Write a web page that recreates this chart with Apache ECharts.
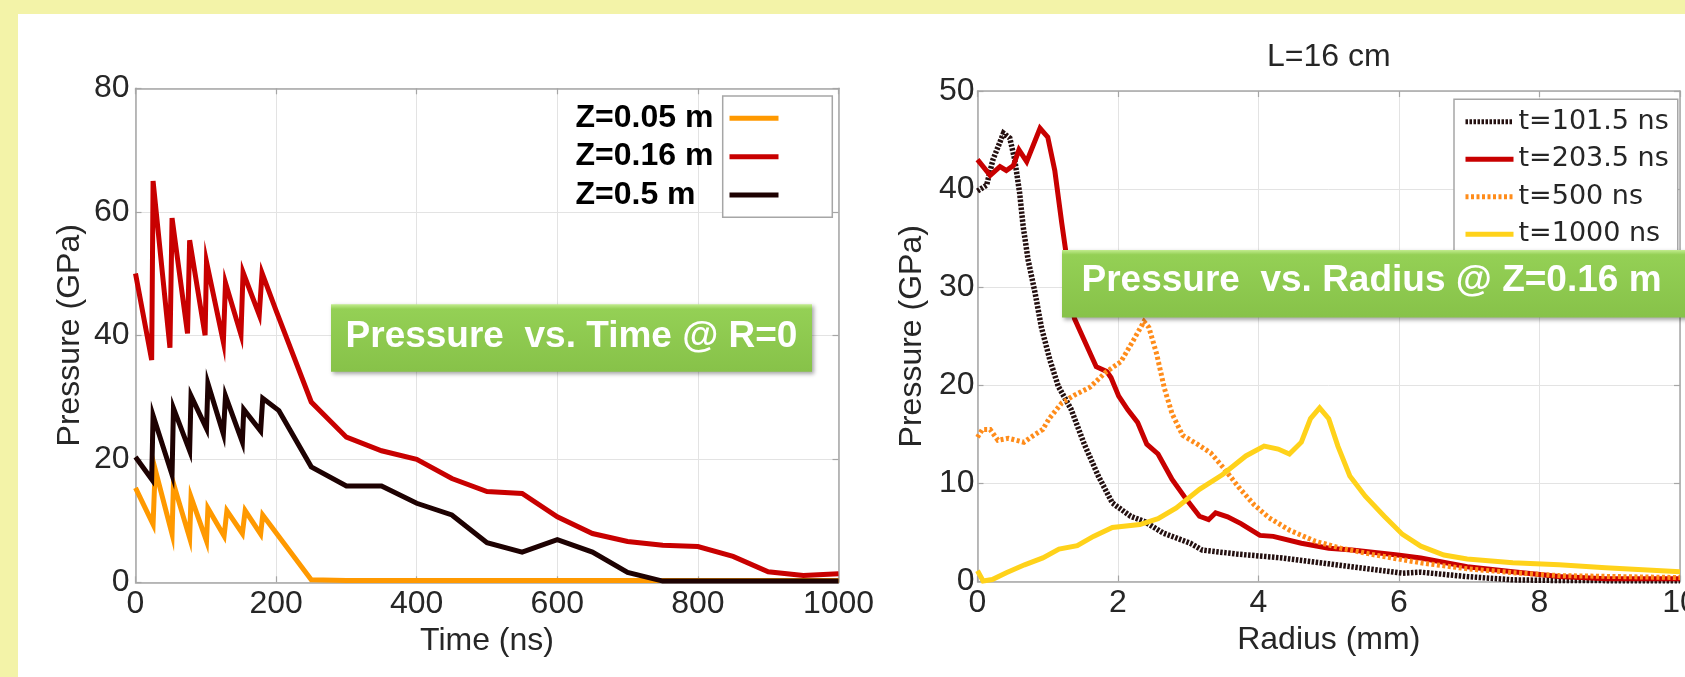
<!DOCTYPE html>
<html><head><meta charset="utf-8">
<script src="https://cdn.jsdelivr.net/npm/echarts@6/dist/echarts.min.js"></script>
<style>
html,body{margin:0;padding:0;overflow:hidden;}
#chart{width:1685px;height:677px;background:
 linear-gradient(#f3f3a8,#f3f3a8) left top/18px 100% no-repeat,
 linear-gradient(#f3f3a8,#f3f3a8) left top/100% 14px no-repeat, #ffffff;}
</style></head><body><div id="chart"></div>
<script>
const FONT = "'Liberation Sans', Arial, sans-serif";
const WIDE = "'DejaVu Sans', sans-serif";

// ---- Left chart: Pressure vs. Time @ R=0 ----
const leftNames = ['Z=0.05 m', 'Z=0.16 m', 'Z=0.5 m'];
const timeTicks = [0, 200, 400, 600, 800, 1000];
const pressTicksLeft = [0, 20, 40, 60, 80];
const z005 = [[0,15.3],[25,9.4],[28,18.3],[52,7.8],[54,16],[77,7.2],[79,13.8],[101,6.7],[103,12],[126,7.5],[130,11.6],[152,7.9],[156,11.6],[178,7.8],[181,10.9],[250,0.4],[300,0.3],[350,0.3],[400,0.3],[450,0.3],[500,0.3],[550,0.3],[600,0.3],[650,0.3],[700,0.3],[750,0.3],[800,0.3],[850,0.3],[900,0.3],[950,0.3],[1000,0.3]];
const z016 = [[0,50],[23,36],[25,65],[49,38],[52,59],[74,40.3],[77,55.4],[99,40],[101,51.9],[125,38.9],[128,48.5],[150,40.1],[153,50.2],[176,43.3],[180,50.1],[200,44],[250,29.2],[300,23.5],[350,21.3],[400,19.9],[450,16.8],[500,14.7],[550,14.4],[600,10.6],[650,7.9],[700,6.6],[750,6.0],[800,5.8],[850,4.2],[900,1.7],[950,1.1],[1000,1.4]];
const z05 = [[0,20.3],[23,16.7],[25,27],[52,17.4],[54,28.2],[77,21.3],[79,30.2],[101,24.9],[103,32.2],[125,24],[128,30.2],[152,22.7],[154,28],[178,24.5],[181,29.8],[204,27.8],[250,18.7],[300,15.6],[350,15.6],[400,12.8],[450,10.9],[500,6.4],[550,4.9],[600,6.9],[650,4.9],[700,1.6],[750,0.2],[800,0.2],[850,0.2],[900,0.2],[950,0.2],[1000,0.2]];

// ---- Right chart: Pressure vs. Radius @ Z=0.16 m ----
const rightTitle = 'L=16 cm';
const rightNames = ['t=101.5 ns', 't=203.5 ns', 't=500 ns', 't=1000 ns'];
const radiusTicks = [0, 2, 4, 6, 8, 10];
const pressTicksRight = [0, 10, 20, 30, 40, 50];
const t1015 = [[0,39.8],[0.13,40.4],[0.22,43],[0.37,45.7],[0.46,45.2],[0.53,43],[0.6,39.6],[0.65,36.2],[0.72,32.8],[0.82,29.4],[0.91,25.9],[1.03,22.6],[1.15,19.9],[1.33,17.6],[1.52,14.0],[1.72,10.75],[1.92,8.0],[2.18,6.65],[2.38,6.1],[2.64,4.95],[3.03,3.9],[3.2,3.2],[3.69,2.8],[4.34,2.4],[5.0,1.8],[5.66,1.2],[6.05,0.85],[6.31,0.95],[6.97,0.5],[7.62,0.17],[8.28,0.1],[10,0.07]];
const t2035 = [[0,43],[0.18,41.4],[0.32,42.3],[0.41,41.9],[0.51,42.4],[0.59,44],[0.7,42.8],[0.89,46.2],[1.0,45.3],[1.1,41.9],[1.2,36.5],[1.3,31.5],[1.38,26.8],[1.5,24.9],[1.69,21.9],[1.84,21.4],[1.9,20.8],[2.01,18.9],[2.14,17.5],[2.28,16.2],[2.41,14.0],[2.57,13.0],[2.77,10.4],[2.97,8.4],[3.16,6.65],[3.29,6.3],[3.39,7.0],[3.56,6.6],[3.75,5.9],[4.02,4.7],[4.21,4.6],[4.61,3.9],[5.0,3.4],[5.33,3.2],[5.98,2.7],[6.31,2.4],[6.97,1.5],[7.62,1.0],[8.28,0.5],[8.94,0.27],[10,0.27]];
const t500 = [[0,14.7],[0.07,15.5],[0.18,15.5],[0.29,14.4],[0.44,14.6],[0.66,14.2],[0.8,14.9],[0.93,15.5],[1.02,16.6],[1.2,18.2],[1.38,19.0],[1.6,19.8],[1.82,21.3],[2.04,22.4],[2.22,24.6],[2.37,26.5],[2.44,25.9],[2.55,23.2],[2.66,19.7],[2.77,17.1],[2.92,14.9],[3.13,14.0],[3.32,13.1],[3.5,11.6],[3.72,9.6],[3.94,7.8],[4.15,6.5],[4.45,5.2],[4.81,4.1],[5.17,3.4],[5.66,2.7],[6.31,1.9],[6.97,1.3],[7.62,0.9],[8.28,0.6],[10,0.4]];
const t1000 = [[0,1.1],[0.08,0.05],[0.21,0.2],[0.41,0.9],[0.67,1.7],[0.93,2.4],[1.16,3.3],[1.42,3.65],[1.65,4.6],[1.92,5.5],[2.31,5.8],[2.57,6.4],[2.83,7.5],[3.16,9.4],[3.49,10.9],[3.82,12.8],[4.08,13.8],[4.28,13.5],[4.44,13.0],[4.61,14.2],[4.74,16.6],[4.87,17.7],[5.0,16.6],[5.13,13.8],[5.3,10.75],[5.52,8.7],[5.79,6.65],[6.05,4.8],[6.31,3.6],[6.64,2.7],[6.97,2.3],[7.62,1.9],[8.28,1.7],[8.94,1.4],[10,1.0]];

const boxLeftText = 'Pressure  vs. Time @ R=0';
const boxRightText = 'Pressure  vs. Radius @ Z=0.16 m';

const AX = '#a6a6a6', GRIDC = '#e3e3e3', TXT = '#262626';

function span(ticks){ return {min: ticks[0], max: ticks[ticks.length-1], interval: ticks[1]-ticks[0]}; }
const plain = v => String(v);

function bottomX(gi, ticks, name){
  return Object.assign({type:'value', gridIndex:gi, position:'bottom', name:name, nameLocation:'middle', nameGap:40,
    nameTextStyle:{fontSize:32, color:TXT, fontFamily:FONT},
    axisLine:{show:true, onZero:false, lineStyle:{color:AX, width:1.5}},
    axisTick:{show:true, inside:true, length:6, lineStyle:{color:AX, width:1.2}},
    axisLabel:{fontSize:32, color:TXT, fontFamily:FONT, margin:6, formatter:plain},
    splitLine:{show:true, lineStyle:{color:GRIDC, width:1}}}, span(ticks));
}
function topX(gi, ticks){
  return Object.assign({type:'value', gridIndex:gi, position:'top',
    axisLine:{show:true, onZero:false, lineStyle:{color:AX, width:1.5}},
    axisTick:{show:true, inside:true, length:6, lineStyle:{color:AX, width:1.2}},
    axisLabel:{show:false}, splitLine:{show:false}}, span(ticks));
}
function leftY(gi, ticks, name, margin){
  return Object.assign({type:'value', gridIndex:gi, position:'left', name:name, nameLocation:'middle', nameGap:49,
    nameTextStyle:{fontSize:32, color:TXT, fontFamily:FONT},
    axisLine:{show:true, onZero:false, lineStyle:{color:AX, width:1.5}},
    axisTick:{show:true, inside:true, length:6, lineStyle:{color:AX, width:1.2}},
    axisLabel:{fontSize:32, color:TXT, fontFamily:FONT, margin:margin, formatter:plain},
    splitLine:{show:true, lineStyle:{color:GRIDC, width:1}}}, span(ticks));
}
function rightY(gi, ticks){
  return Object.assign({type:'value', gridIndex:gi, position:'right',
    axisLine:{show:true, onZero:false, lineStyle:{color:AX, width:1.5}},
    axisTick:{show:true, inside:true, length:6, lineStyle:{color:AX, width:1.2}},
    axisLabel:{show:false}, splitLine:{show:false}}, span(ticks));
}
function line(name, data, xi, yi, color, width, type){
  return {type:'line', name:name, data:data, xAxisIndex:xi, yAxisIndex:yi, symbol:'none', showSymbol:false,
    lineStyle:{color:color, width:width, type:type || 'solid', cap:'butt', join:'miter'}, itemStyle:{color:color}};
}

const chart = echarts.init(document.getElementById('chart'), null, {renderer:'canvas'});
const greenFill = new echarts.graphic.LinearGradient(0,0,0,1,[
  {offset:0, color:'#c2ec8e'},{offset:0.07, color:'#94d055'},{offset:1, color:'#87c249'}]);

chart.setOption({
  animation:false,
  backgroundColor:'transparent',
  textStyle:{fontFamily:FONT},
  title:{text:rightTitle, left:1267, top:41, padding:0,
    textStyle:{fontSize:32, fontWeight:'normal', color:TXT, fontFamily:FONT}},
  grid:[
    {left:135.5, top:88.3, width:703, height:494, containLabel:false, outerBoundsMode:'none'},
    {left:977.5, top:91, width:702.5, height:490.5, containLabel:false, outerBoundsMode:'none'}
  ],
  xAxis:[ bottomX(0, timeTicks, 'Time (ns)'), topX(0, timeTicks),
          bottomX(1, radiusTicks, 'Radius (mm)'), topX(1, radiusTicks) ],
  yAxis:[ leftY(0, pressTicksLeft, 'Pressure (GPa)', 6), rightY(0, pressTicksLeft),
          leftY(1, pressTicksRight, 'Pressure (GPa)', 3), rightY(1, pressTicksRight) ],
  legend:[
    {data:leftNames, orient:'vertical', right:904, top:102.3, padding:0, align:'right',
     itemWidth:49, itemHeight:14, itemGap:6.35, selectedMode:false,
     itemStyle:{opacity:0}, lineStyle:{width:5},
     formatter: n => '{a|' + n + '}',
     textStyle:{fontSize:32, fontWeight:'bold', color:'#000', fontFamily:FONT,
       rich:{a:{width:149, align:'left', fontSize:32, fontWeight:'bold', color:'#000', fontFamily:FONT}}}},
    {data:rightNames, orient:'vertical', left:1454, top:99.3, padding:[9,9,9,9],
     borderColor:AX, borderWidth:1.5, backgroundColor:'#fff',
     itemWidth:48, itemHeight:14, itemGap:10.5, selectedMode:false,
     itemStyle:{opacity:0}, lineStyle:{width:5},
     textStyle:{fontSize:27, color:TXT, fontFamily:WIDE}}
  ],
  series:[
    line(leftNames[0], z005, 0, 0, '#ff9900', 5),
    line(leftNames[1], z016, 0, 0, '#c80000', 5),
    line(leftNames[2], z05, 0, 0, '#1e0202', 5),
    line(rightNames[0], t1015, 2, 2, '#241010', 5.5, [2.5,1.5]),
    line(rightNames[1], t2035, 2, 2, '#c80000', 5),
    line(rightNames[2], t500, 2, 2, '#ff8c1a', 5, [3,2.5]),
    line(rightNames[3], t1000, 2, 2, '#ffd21a', 5)
  ],
  graphic:[
    {type:'rect', z:3, shape:{x:722.7, y:96, width:109.6, height:121.3},
     style:{fill:'#fff', stroke:AX, lineWidth:1.5}},
    {type:'rect', z:20, shape:{x:331, y:304.3, width:481, height:67.4},
     style:{fill:greenFill, shadowBlur:4, shadowColor:'rgba(0,0,0,0.35)', shadowOffsetX:2, shadowOffsetY:2}},
    {type:'text', z:21, x:571.5, y:337,
     style:{text:boxLeftText, fill:'#fff', font:'bold 37px ' + FONT, align:'center', verticalAlign:'middle'}},
    {type:'rect', z:20, shape:{x:1062, y:250, width:630, height:67.5},
     style:{fill:greenFill, shadowBlur:4, shadowColor:'rgba(0,0,0,0.35)', shadowOffsetX:2, shadowOffsetY:2}},
    {type:'text', z:21, x:1371.5, y:281,
     style:{text:boxRightText, fill:'#fff', font:'bold 37px ' + FONT, align:'center', verticalAlign:'middle'}}
  ]
});
</script>
</body></html>
